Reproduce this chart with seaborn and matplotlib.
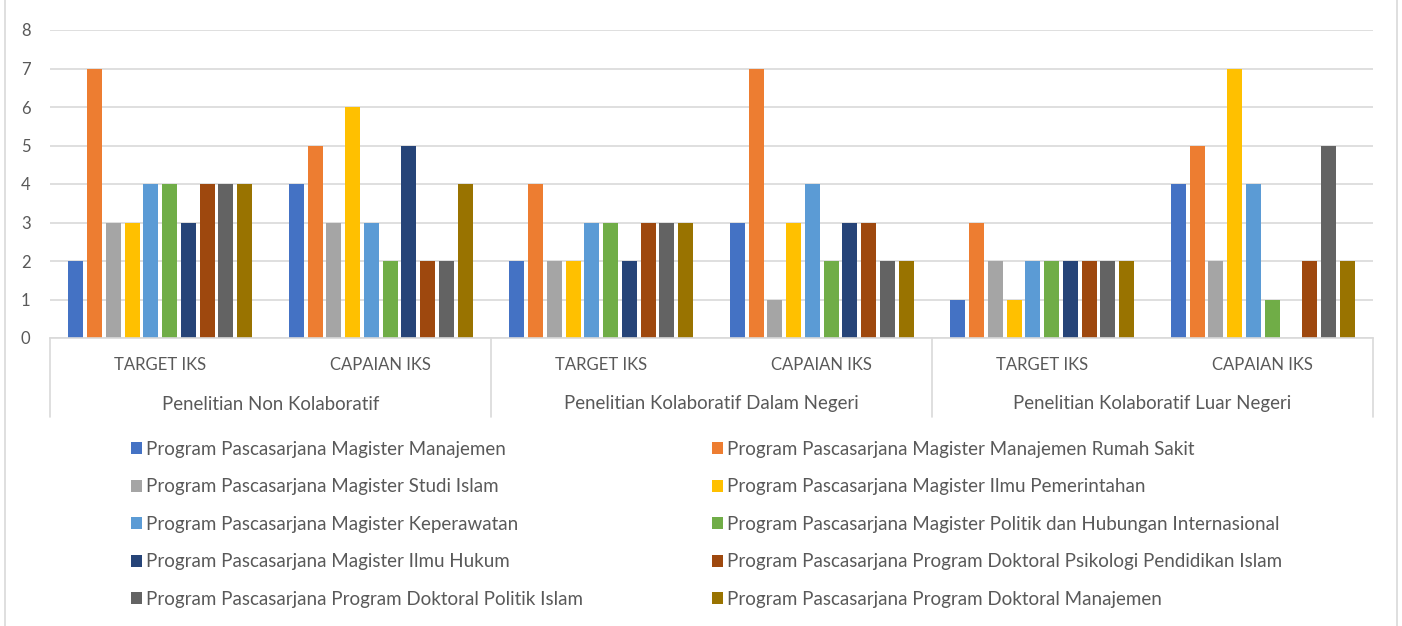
import pandas as pd
import numpy as np
import matplotlib
matplotlib.use('Agg')
import matplotlib.pyplot as plt
import matplotlib.transforms as mtransforms
from matplotlib.patches import Patch
from matplotlib.lines import Line2D
import seaborn as sns

# Data
groups = ['Penelitian Non Kolaboratif', 'Penelitian Kolaboratif Dalam Negeri',
          'Penelitian Kolaboratif Luar Negeri']
subcats = ['TARGET IKS', 'CAPAIAN IKS']
programs = [
    'Program Pascasarjana Magister Manajemen',
    'Program Pascasarjana Magister Manajemen Rumah Sakit',
    'Program Pascasarjana Magister Studi Islam',
    'Program Pascasarjana Magister Ilmu Pemerintahan',
    'Program Pascasarjana Magister Keperawatan',
    'Program Pascasarjana Magister Politik dan Hubungan Internasional',
    'Program Pascasarjana Magister Ilmu Hukum',
    'Program Pascasarjana Program Doktoral Psikologi Pendidikan Islam',
    'Program Pascasarjana Program Doktoral Politik Islam',
    'Program Pascasarjana Program Doktoral Manajemen',
]
# one list per (group, sub-category), in program order
non_kolab_target = [2, 7, 3, 3, 4, 4, 3, 4, 4, 4]
non_kolab_capaian = [4, 5, 3, 6, 3, 2, 5, 2, 2, 4]
dalam_target = [2, 4, 2, 2, 3, 3, 2, 3, 3, 3]
dalam_capaian = [3, 7, 1, 3, 4, 2, 3, 3, 2, 2]
luar_target = [1, 3, 2, 1, 2, 2, 2, 2, 2, 2]
luar_capaian = [4, 5, 2, 7, 4, 1, 0, 2, 5, 2]

colors = ['#4472C4', '#ED7D31', '#A5A5A5', '#FFC000', '#5B9BD5',
          '#70AD47', '#264478', '#9E480E', '#636363', '#997300']

series = [non_kolab_target, non_kolab_capaian, dalam_target,
          dalam_capaian, luar_target, luar_capaian]
slots = [f'{g}|{s}' for g in groups for s in subcats]

rows = []
for slot, vals in zip(slots, series):
    for prog, v in zip(programs, vals):
        rows.append({'slot': slot, 'program': prog, 'value': v})
df = pd.DataFrame(rows)

TEXT = '#595959'
GRID = '#D9D9D9'

sns.set_theme(style='white')
plt.rcParams['font.family'] = ['Lato', 'DejaVu Sans']

fig = plt.figure(figsize=(14.02, 6.26), dpi=100)
W, H = 1402, 626
ax = fig.add_axes([50 / W, 1 - 338 / H, (1373 - 50) / W, (338 - 30) / H])

sns.barplot(data=df, x='slot', y='value', hue='program', order=slots,
            hue_order=programs, palette=colors, width=0.85, gap=0.2,
            saturation=1, linewidth=0, ax=ax, legend=False, errorbar=None)

ax.set_xlim(-0.5, len(slots) - 0.5)
ax.set_ylim(0, 8)
ax.set_yticks(range(0, 9))
ax.yaxis.grid(True, color=GRID, linewidth=1.2)
ax.set_axisbelow(True)
for side in ['left', 'right', 'top']:
    ax.spines[side].set_visible(False)
ax.spines['bottom'].set_color(GRID)
ax.spines['bottom'].set_linewidth(1.2)
ax.tick_params(axis='y', length=0, labelsize=12, labelcolor=TEXT, pad=14)
ax.set_xticks(range(len(slots)))
ax.set_xticklabels([s.split('|')[1] for s in slots])
ax.tick_params(axis='x', length=0, labelsize=12, labelcolor=TEXT, pad=14)
ax.set_xlabel('')
ax.set_ylabel('')

# hierarchical category axis
trans = mtransforms.blended_transform_factory(ax.transData, fig.transFigure)
y_bottom = 1 - 417 / H
for xb in np.arange(-0.5, len(slots), 2):
    ax.add_line(Line2D([xb, xb], [y_bottom, 1 - 338 / H], transform=trans,
                       color=GRID, linewidth=1.2, clip_on=False))
for i, g in enumerate(groups):
    ax.text(2 * i + 0.5, 1 - 404 / H, g, transform=trans, ha='center',
            va='center', fontsize=13.4, color=TEXT)

# chart border (left/right)
for xp in [5, 1397]:
    fig.add_artist(Line2D([xp / W, xp / W], [0, 1], color=GRID, linewidth=1.2))

# legend, two columns filled row-wise
handles = [Patch(facecolor=c, edgecolor='none') for c in colors]
for col, x0 in enumerate([131, 712]):
    idx = list(range(col, len(programs), 2))
    fig.legend([handles[i] for i in idx], [programs[i] for i in idx],
               loc='upper left', bbox_to_anchor=(x0 / W, 1 - 441 / H),
               frameon=False, fontsize=13.5, labelcolor=TEXT,
               handlelength=0.6, handleheight=0.6, handletextpad=0.2,
               labelspacing=1.09, borderaxespad=0, borderpad=0)

fig.savefig('out.png', dpi=100, facecolor='white')
